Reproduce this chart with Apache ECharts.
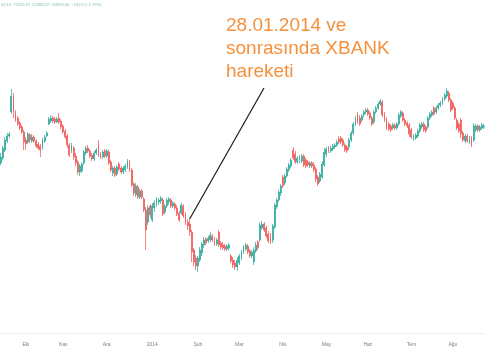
<!DOCTYPE html>
<html><head><meta charset="utf-8">
<script src="https://cdn.jsdelivr.net/npm/echarts@6/dist/echarts.min.js"></script>
<style>html,body{margin:0;padding:0;background:#fff}#c{width:485px;height:360px}</style>
</head><body><div id="c"></div>
<script>
const openV = [197,202,210,219,224,248,263,248,242,237,233,228,220,218,225,219,223,219,216,214,212,219,224,236,239,242,241,238,242,239,234,229,224,215,209,212,204,198,188,189,197,207,212,209,205,201,207,215,206,203,209,204,208,198,187,192,186,196,192,188,190,193,198,190,176,165,173,163,169,161,150,138,154,140,152,156,158,159,160,148,154,158,160,154,156,152,147,147,154,145,138,136,128,110,102,94,100,107,115,121,119,120,124,120,116,128,117,115,114,111,112,104,100,97,93,97,102,108,111,114,109,104,98,109,118,120,132,136,132,126,124,120,133,153,160,167,183,177,184,190,194,210,206,198,200,199,204,200,198,194,197,195,191,183,179,183,195,206,212,209,211,213,215,221,222,220,215,213,213,220,227,236,246,242,240,245,248,250,247,242,238,248,252,256,258,246,241,236,234,232,235,232,236,244,247,240,237,235,230,221,222,224,229,233,236,233,233,242,245,252,248,252,255,257,261,264,267,260,257,252,240,236,240,227,219,224,218,222,220,230,234,230,232,233];
const closeV = [203,212,220,224,226,264,248,240,236,232,228,218,216,226,220,223,219,214,212,210,220,223,227,241,242,239,238,241,238,233,228,223,215,205,215,203,197,188,194,196,208,212,209,204,201,207,210,205,203,208,204,209,197,190,192,185,193,191,188,192,194,199,190,175,167,174,163,169,163,150,130,152,145,154,157,161,160,162,146,154,160,161,154,157,152,146,140,155,144,137,134,128,108,98,94,102,110,116,120,117,122,125,120,116,120,115,113,112,111,114,115,99,95,93,100,104,108,113,115,108,104,108,110,115,112,135,136,130,124,119,118,134,155,160,168,174,174,184,191,195,200,202,198,202,203,204,195,194,195,197,194,190,181,176,186,196,208,211,209,212,214,215,218,218,218,215,210,209,220,227,236,241,238,236,244,248,250,246,242,236,248,252,256,259,245,240,232,231,230,235,232,236,245,248,240,236,234,226,223,224,225,229,235,236,230,229,242,246,248,246,252,255,257,261,265,269,260,250,252,242,232,229,226,220,224,219,222,215,234,234,230,233,235,234];
const lowV = [195,200,208,217,222,246,242,238,234,230,226,210,210,216,217,217,217,212,210,203,210,217,223,235,237,237,236,237,236,231,226,221,212,203,207,200,194,185,184,187,195,205,207,202,199,199,205,203,201,201,202,202,195,188,184,183,184,189,186,186,188,191,188,173,164,163,161,161,161,148,110,135,142,138,148,153,155,156,144,146,152,155,152,152,150,144,138,145,142,135,130,124,98,94,90,88,98,104,112,115,117,118,118,114,114,113,111,110,109,109,110,97,92,90,89,95,100,106,109,106,102,102,95,107,110,118,130,128,122,117,116,117,131,151,158,164,172,175,182,188,192,200,196,196,197,197,193,192,193,192,192,188,178,174,177,181,193,203,207,207,209,211,213,216,216,213,208,207,210,218,225,234,236,234,238,243,246,244,240,234,236,246,250,254,243,238,230,229,228,230,230,230,234,242,238,234,232,223,221,219,220,222,227,231,228,227,231,240,243,244,246,250,253,255,259,262,258,248,250,240,230,227,222,218,217,217,216,213,218,228,228,228,230,231];
const highV = [207,214,223,227,228,271,267,250,244,239,235,230,223,228,227,226,225,221,218,216,222,225,229,243,245,244,243,243,247,241,236,231,226,217,217,214,207,200,196,198,210,214,215,211,207,209,212,220,208,210,211,211,210,200,194,194,195,198,194,194,196,201,200,192,178,177,175,171,171,163,153,155,156,157,160,163,162,164,162,156,162,163,162,159,158,155,149,157,156,148,141,141,130,112,105,104,113,118,123,123,124,128,126,123,122,130,119,118,116,116,117,106,103,100,103,106,110,115,117,116,111,110,113,118,120,138,139,138,134,129,127,136,157,162,170,176,185,186,193,197,202,213,209,204,205,206,206,202,200,199,199,198,193,185,188,199,212,213,214,214,216,217,220,224,224,222,217,215,222,229,238,244,248,245,246,250,252,252,249,244,250,254,258,261,260,248,243,238,236,237,237,238,247,250,249,242,239,237,232,226,227,231,237,238,238,235,244,248,250,254,254,257,259,263,267,272,269,262,259,254,242,238,242,229,226,226,224,224,237,236,236,235,237,236];
const holidays = ['2013-10-15','2013-10-16','2013-10-17','2013-10-18','2013-10-29','2014-01-01','2014-04-23','2014-05-01','2014-05-19','2014-07-28','2014-07-29','2014-07-30'];
const monthNames = ['Oca','Şub','Mar','Nis','May','Haz','Tem','Ağu','Eyl','Eki','Kas','Ara'];
const annotationLines = ['28.01.2014 ve','sonrasında XBANK','hareketi'];
const annotationDate = '2014-01-28';
const headerText = '00.10  Y5055.91  D4882.67  K4994.00  −132.0 (−1.79%)';
const UP = '#26a69a', DOWN = '#ef5350';

// trading-day categories (weekdays minus holidays)
const dates = [];
let d = new Date(Date.UTC(2013, 8, 13));
while (dates.length < openV.length) {
  const dow = d.getUTCDay();
  const s = d.toISOString().slice(0, 10);
  if (dow !== 0 && dow !== 6 && holidays.indexOf(s) < 0) dates.push(s);
  d = new Date(d.getTime() + 86400000);
}
const candles = dates.map((_, i) => {
  const c = closeV[i] >= openV[i] ? UP : DOWN;
  return {value: [openV[i], closeV[i], lowV[i], highV[i]],
          itemStyle: {color: c, color0: c, borderColor: c, borderColor0: c, borderColorDoji: c}};
});

const chart = echarts.init(document.getElementById('c'), null, {renderer: 'canvas'});
chart.setOption({
  animation: false,
  backgroundColor: '#ffffff',
  grid: {left: 0, right: 0, top: 0, bottom: 27},
  xAxis: {
    type: 'category',
    data: dates,
    boundaryGap: true,
    axisLine: {show: true, lineStyle: {color: '#f0f0f0', width: 1}},
    axisTick: {show: false},
    splitLine: {show: false},
    axisLabel: {
      margin: 9,
      fontSize: 5,
      color: '#808080',
      fontFamily: 'Liberation Sans',
      hideOverlap: false,
      interval: (i) => i > 0 && dates[i].slice(0, 7) !== dates[i - 1].slice(0, 7),
      formatter: (v) => {
        const m = +v.slice(5, 7);
        return m === 1 ? v.slice(0, 4) : monthNames[m - 1];
      }
    }
  },
  yAxis: {type: 'value', min: 27, max: 360, show: false, splitLine: {show: false}},
  series: [{
    type: 'candlestick',
    data: candles,
    large: false,
    barWidth: 1.4,
    itemStyle: {
      color: UP, color0: DOWN,
      borderColor: UP, borderColor0: DOWN,
      borderWidth: 0.7
    }
  }]
});

const ai = dates.indexOf(annotationDate);
const p = chart.convertToPixel({seriesIndex: 0}, [ai, highV[ai]]);
chart.setOption({
  graphic: [
    {type: 'text', left: 1, top: 3, style: {text: headerText, fontSize: 4, fill: '#7dbfb4', fontFamily: 'Liberation Sans'}},
    {type: 'text', left: 226, top: 14, style: {text: annotationLines.join('\n'), fontSize: 19, lineHeight: 23, fill: '#f5913d', fontFamily: 'Liberation Sans'}},
    {type: 'line', shape: {x1: p[0], y1: p[1], x2: 264, y2: 88}, style: {stroke: '#1a1a1a', lineWidth: 1.2}}
  ]
});
</script>
</body></html>
